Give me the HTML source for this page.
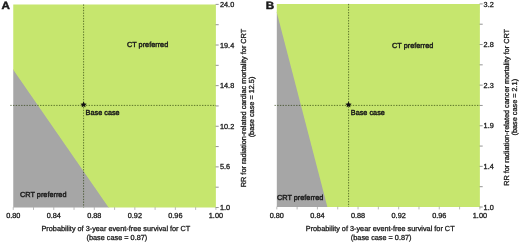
<!DOCTYPE html>
<html><head><meta charset="utf-8"><style>
html,body{margin:0;padding:0;background:#fff;}
body{width:520px;height:243px;overflow:hidden;}
svg{display:block;filter:blur(0.45px);}
svg text{text-rendering:geometricPrecision;font-family:"Liberation Sans", sans-serif;font-size:7.3px;fill:#1a1a1a;stroke:#1a1a1a;stroke-width:0.3px;}
svg text.in{stroke-width:0.42px;}
</style></head><body>
<svg width="520" height="243" viewBox="0 0 520 243">
<rect width="520" height="243" fill="#fff"/>
<polygon points="13.25,69.00 14.05,69.80 109.40,207.50 109.40,207.50 13.25,207.50" fill="#a6a6a6"/>
<polygon points="13.25,4.40 215.90,4.40 215.90,207.50 108.60,207.50 108.60,207.50 13.25,69.80 13.25,69.80" fill="#c6e66e"/>
<line x1="215.60" y1="4.40" x2="218.70" y2="4.40" stroke="#7a7a7a" stroke-width="0.8"/>
<line x1="13.25" y1="207.20" x2="13.25" y2="209.90" stroke="#9c9c9c" stroke-width="0.7"/>
<line x1="215.60" y1="24.71" x2="218.70" y2="24.71" stroke="#7a7a7a" stroke-width="0.8"/>
<line x1="33.52" y1="207.20" x2="33.52" y2="209.90" stroke="#9c9c9c" stroke-width="0.7"/>
<line x1="215.60" y1="45.02" x2="218.70" y2="45.02" stroke="#7a7a7a" stroke-width="0.8"/>
<line x1="53.78" y1="207.20" x2="53.78" y2="209.90" stroke="#9c9c9c" stroke-width="0.7"/>
<line x1="215.60" y1="65.33" x2="218.70" y2="65.33" stroke="#7a7a7a" stroke-width="0.8"/>
<line x1="74.05" y1="207.20" x2="74.05" y2="209.90" stroke="#9c9c9c" stroke-width="0.7"/>
<line x1="215.60" y1="85.64" x2="218.70" y2="85.64" stroke="#7a7a7a" stroke-width="0.8"/>
<line x1="94.31" y1="207.20" x2="94.31" y2="209.90" stroke="#9c9c9c" stroke-width="0.7"/>
<line x1="215.60" y1="105.95" x2="218.70" y2="105.95" stroke="#7a7a7a" stroke-width="0.8"/>
<line x1="114.58" y1="207.20" x2="114.58" y2="209.90" stroke="#9c9c9c" stroke-width="0.7"/>
<line x1="215.60" y1="126.26" x2="218.70" y2="126.26" stroke="#7a7a7a" stroke-width="0.8"/>
<line x1="134.84" y1="207.20" x2="134.84" y2="209.90" stroke="#9c9c9c" stroke-width="0.7"/>
<line x1="215.60" y1="146.57" x2="218.70" y2="146.57" stroke="#7a7a7a" stroke-width="0.8"/>
<line x1="155.10" y1="207.20" x2="155.10" y2="209.90" stroke="#9c9c9c" stroke-width="0.7"/>
<line x1="215.60" y1="166.88" x2="218.70" y2="166.88" stroke="#7a7a7a" stroke-width="0.8"/>
<line x1="175.37" y1="207.20" x2="175.37" y2="209.90" stroke="#9c9c9c" stroke-width="0.7"/>
<line x1="215.60" y1="187.19" x2="218.70" y2="187.19" stroke="#7a7a7a" stroke-width="0.8"/>
<line x1="195.64" y1="207.20" x2="195.64" y2="209.90" stroke="#9c9c9c" stroke-width="0.7"/>
<line x1="215.60" y1="207.50" x2="218.70" y2="207.50" stroke="#7a7a7a" stroke-width="0.8"/>
<line x1="215.90" y1="207.20" x2="215.90" y2="209.90" stroke="#9c9c9c" stroke-width="0.7"/>
<line x1="83.6" y1="4.4" x2="83.6" y2="207.5" stroke="#1e3300" stroke-width="1" stroke-dasharray="1.4 1.3" opacity="0.62"/>
<line x1="10.3" y1="105.4" x2="215.9" y2="105.4" stroke="#1e3300" stroke-width="1" stroke-dasharray="1.4 1.3" opacity="0.62"/>
<polygon points="83.60,101.40 84.54,103.41 86.74,103.68 85.12,105.19 85.54,107.37 83.60,106.30 81.66,107.37 82.08,105.19 80.46,103.68 82.66,103.41" fill="#111"/>
<text class="in" x="85.6" y="114.8">Base case</text>
<text class="in" x="127.0" y="47.1">CT preferred</text>
<text class="in" x="20.1" y="197.4">CRT preferred</text>
<text x="220.0" y="210.10">1.0</text>
<text x="220.0" y="169.48">5.6</text>
<text x="220.0" y="128.86">10.2</text>
<text x="220.0" y="88.24">14.8</text>
<text x="220.0" y="47.62">19.4</text>
<text x="220.0" y="7.00">24.0</text>
<text x="13.25" y="217.8" text-anchor="middle">0.80</text>
<text x="53.78" y="217.8" text-anchor="middle">0.84</text>
<text x="94.31" y="217.8" text-anchor="middle">0.88</text>
<text x="134.84" y="217.8" text-anchor="middle">0.92</text>
<text x="175.37" y="217.8" text-anchor="middle">0.96</text>
<text x="215.90" y="217.8" text-anchor="middle">1.00</text>
<text x="115.9" y="231.1" text-anchor="middle">Probability of 3-year event-free survival for CT</text>
<text x="116.9" y="240.0" text-anchor="middle">(base case = 0.87)</text>
<text transform="translate(246.4,108) rotate(-90)" text-anchor="middle">RR for radiation-related cardiac mortality for CRT</text>
<text transform="translate(254.4,107) rotate(-90)" text-anchor="middle">(base case = 12.5)</text>
<text transform="translate(1.6,8.9) scale(1.1,1)" style="font-weight:bold;font-size:10.6px;stroke-width:0.45px">A</text>
<polygon points="276.80,11.80 277.60,12.60 328.20,207.00 328.20,207.00 276.80,207.00" fill="#a6a6a6"/>
<polygon points="276.80,3.90 479.90,3.90 479.90,207.00 327.40,207.00 327.40,207.00 276.80,12.60 276.80,12.60" fill="#c6e66e"/>
<line x1="479.60" y1="3.90" x2="482.70" y2="3.90" stroke="#7a7a7a" stroke-width="0.8"/>
<line x1="276.80" y1="206.70" x2="276.80" y2="209.40" stroke="#9c9c9c" stroke-width="0.7"/>
<line x1="479.60" y1="24.21" x2="482.70" y2="24.21" stroke="#7a7a7a" stroke-width="0.8"/>
<line x1="297.11" y1="206.70" x2="297.11" y2="209.40" stroke="#9c9c9c" stroke-width="0.7"/>
<line x1="479.60" y1="44.52" x2="482.70" y2="44.52" stroke="#7a7a7a" stroke-width="0.8"/>
<line x1="317.42" y1="206.70" x2="317.42" y2="209.40" stroke="#9c9c9c" stroke-width="0.7"/>
<line x1="479.60" y1="64.83" x2="482.70" y2="64.83" stroke="#7a7a7a" stroke-width="0.8"/>
<line x1="337.73" y1="206.70" x2="337.73" y2="209.40" stroke="#9c9c9c" stroke-width="0.7"/>
<line x1="479.60" y1="85.14" x2="482.70" y2="85.14" stroke="#7a7a7a" stroke-width="0.8"/>
<line x1="358.04" y1="206.70" x2="358.04" y2="209.40" stroke="#9c9c9c" stroke-width="0.7"/>
<line x1="479.60" y1="105.45" x2="482.70" y2="105.45" stroke="#7a7a7a" stroke-width="0.8"/>
<line x1="378.35" y1="206.70" x2="378.35" y2="209.40" stroke="#9c9c9c" stroke-width="0.7"/>
<line x1="479.60" y1="125.76" x2="482.70" y2="125.76" stroke="#7a7a7a" stroke-width="0.8"/>
<line x1="398.66" y1="206.70" x2="398.66" y2="209.40" stroke="#9c9c9c" stroke-width="0.7"/>
<line x1="479.60" y1="146.07" x2="482.70" y2="146.07" stroke="#7a7a7a" stroke-width="0.8"/>
<line x1="418.97" y1="206.70" x2="418.97" y2="209.40" stroke="#9c9c9c" stroke-width="0.7"/>
<line x1="479.60" y1="166.38" x2="482.70" y2="166.38" stroke="#7a7a7a" stroke-width="0.8"/>
<line x1="439.28" y1="206.70" x2="439.28" y2="209.40" stroke="#9c9c9c" stroke-width="0.7"/>
<line x1="479.60" y1="186.69" x2="482.70" y2="186.69" stroke="#7a7a7a" stroke-width="0.8"/>
<line x1="459.59" y1="206.70" x2="459.59" y2="209.40" stroke="#9c9c9c" stroke-width="0.7"/>
<line x1="479.60" y1="207.00" x2="482.70" y2="207.00" stroke="#7a7a7a" stroke-width="0.8"/>
<line x1="479.90" y1="206.70" x2="479.90" y2="209.40" stroke="#9c9c9c" stroke-width="0.7"/>
<line x1="348.6" y1="3.9" x2="348.6" y2="207.0" stroke="#1e3300" stroke-width="1" stroke-dasharray="1.4 1.3" opacity="0.62"/>
<line x1="274.5" y1="105.4" x2="479.9" y2="105.4" stroke="#1e3300" stroke-width="1" stroke-dasharray="1.4 1.3" opacity="0.62"/>
<polygon points="348.50,101.40 349.44,103.41 351.64,103.68 350.02,105.19 350.44,107.37 348.50,106.30 346.56,107.37 346.98,105.19 345.36,103.68 347.56,103.41" fill="#111"/>
<text class="in" x="350.8" y="114.8">Base case</text>
<text class="in" x="392.1" y="47.5">CT preferred</text>
<text class="in" x="277" y="199.8">CRT preferred</text>
<text x="483.6" y="209.60">1.0</text>
<text x="483.6" y="168.98">1.4</text>
<text x="483.6" y="128.36">1.9</text>
<text x="483.6" y="87.74">2.3</text>
<text x="483.6" y="47.12">2.8</text>
<text x="483.6" y="6.50">3.2</text>
<text x="276.80" y="217.8" text-anchor="middle">0.80</text>
<text x="317.42" y="217.8" text-anchor="middle">0.84</text>
<text x="358.04" y="217.8" text-anchor="middle">0.88</text>
<text x="398.66" y="217.8" text-anchor="middle">0.92</text>
<text x="439.28" y="217.8" text-anchor="middle">0.96</text>
<text x="479.90" y="217.8" text-anchor="middle">1.00</text>
<text x="380.2" y="231.1" text-anchor="middle">Probability of 3-year event-free survival for CT</text>
<text x="381.2" y="240.0" text-anchor="middle">(base case = 0.87)</text>
<text transform="translate(508.8,107.4) rotate(-90)" text-anchor="middle">RR for radiation-related cancer mortality for CRT</text>
<text transform="translate(516.6,107.2) rotate(-90)" text-anchor="middle">(base case = 2.1)</text>
<text transform="translate(265.8,8.9) scale(1.1,1)" style="font-weight:bold;font-size:10.6px;stroke-width:0.45px">B</text>
</svg>
</body></html>
